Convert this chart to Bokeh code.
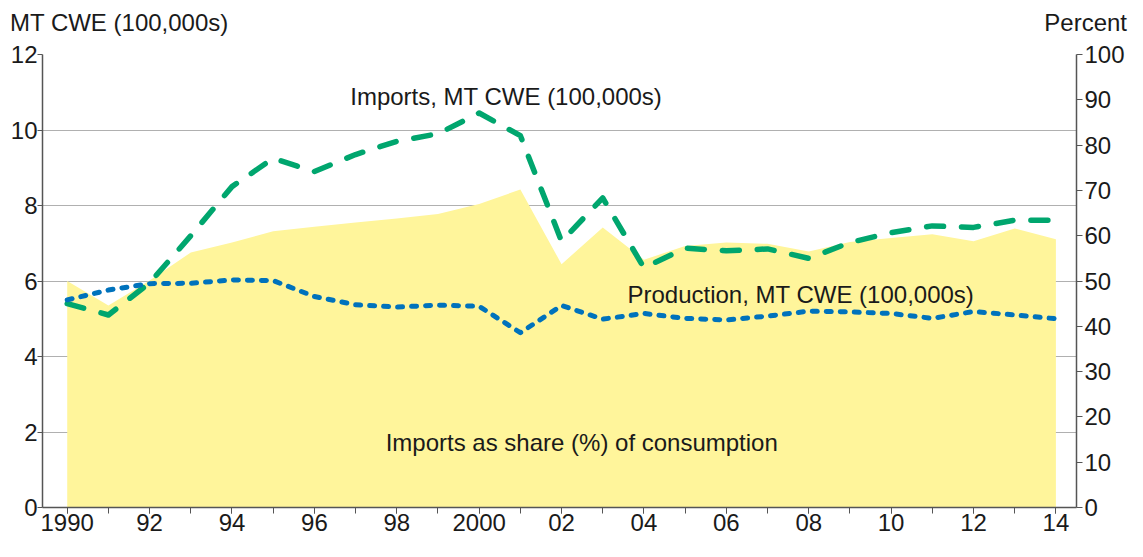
from bokeh.plotting import figure
from bokeh.models import Range1d, LinearAxis, FixedTicker, Label, Div
from bokeh.layouts import column
from bokeh.embed import file_html
from bokeh.resources import INLINE

years = list(range(1990, 2015))
share_pct = [50.0, 44.6, 50.1, 56.3, 58.5, 61.0, 62.0, 62.9, 63.8, 64.8, 67.0, 70.2, 53.7,
             61.8, 54.7, 57.7, 58.5, 58.2, 56.5, 58.6, 59.5, 60.3, 58.8, 61.6, 59.2]
imports_mt = [5.40, 5.10, 5.95, 7.20, 8.50, 9.25, 8.90, 9.35, 9.70, 9.90, 10.45, 9.85, 7.05,
              8.20, 6.35, 6.87, 6.80, 6.85, 6.60, 7.02, 7.28, 7.46, 7.42, 7.61, 7.61]
production_mt = [5.50, 5.76, 5.93, 5.94, 6.03, 6.01, 5.59, 5.37, 5.31, 5.36, 5.33, 4.63, 5.35,
                 4.99, 5.14, 5.01, 4.97, 5.07, 5.20, 5.18, 5.14, 5.01, 5.19, 5.10, 5.00]

x_ticks = list(range(1990, 2015, 2))
x_labels = {1990: "1990", 1992: "92", 1994: "94", 1996: "96", 1998: "98", 2000: "2000",
            2002: "02", 2004: "04", 2006: "06", 2008: "08", 2010: "10", 2012: "12", 2014: "14"}
left_ticks = list(range(0, 13, 2))
right_ticks = list(range(0, 101, 10))
left_title = "MT CWE (100,000s)"
right_title = "Percent"

FONT = "Liberation Sans"
TXT = "#1a1a1a"
AXC = "#555555"

header = Div(
    text=(f'<div style="display:flex;justify-content:space-between;width:1127px;'
          f'font-family:\'{FONT}\';font-size:24px;color:{TXT};line-height:34px;padding-top:6px;">'
          f'<span style="padding-left:10px">{left_title}</span>'
          f'<span style="padding-right:0px">{right_title}</span></div>'),
    width=1127, height=40, styles={"margin": "0", "padding": "0"})

p = figure(width=1127, height=501, output_backend="svg", toolbar_location=None,
           x_range=Range1d(1989.4, 2014.5), y_range=Range1d(0, 12),
           min_border_left=42, min_border_right=48, min_border_top=14, min_border_bottom=34)
p.extra_y_ranges = {"pct": Range1d(0, 100)}
p.outline_line_color = None
p.background_fill_color = "white"
p.border_fill_color = "white"

p.varea(x=years, y1=[0] * len(years), y2=share_pct, y_range_name="pct",
        fill_color="#FFF59B", fill_alpha=1.0)
p.line(years, imports_mt, line_color="#00A66E", line_width=5.5, line_dash="17 18",
       line_cap="round", line_join="round")
p.line(years, production_mt, line_color="#0072BC", line_width=5, line_dash="5 9",
       line_cap="round", line_join="round")

xa = p.xaxis[0]
xa.ticker = FixedTicker(ticks=x_ticks, minor_ticks=years)
xa.major_label_overrides = x_labels
ya = p.yaxis[0]
ya.ticker = FixedTicker(ticks=left_ticks)
ra = LinearAxis(y_range_name="pct", ticker=FixedTicker(ticks=right_ticks))
p.add_layout(ra, "right")

for ax in (xa, ya, ra):
    ax.axis_line_color = AXC
    ax.axis_line_width = 1.5
    ax.major_tick_line_color = AXC
    ax.minor_tick_line_color = AXC
    ax.major_tick_in = 0
    ax.major_tick_out = 6
    ax.minor_tick_in = 0
    ax.major_label_text_font = FONT
    ax.major_label_text_font_size = "24px"
    ax.major_label_text_color = TXT
xa.minor_tick_out = 6
xa.major_label_standoff = 0
ya.minor_tick_out = 0
ra.minor_tick_out = 0
ya.major_tick_out = 5
ya.major_label_standoff = 0
ra.major_label_standoff = 2

p.xgrid.grid_line_color = None
p.ygrid.ticker = FixedTicker(ticks=left_ticks)
p.ygrid.grid_line_color = "#b0b0b0"
p.ygrid.grid_line_width = 1

def lab(x, y, t):
    p.add_layout(Label(x=x, y=y, text=t, text_font=FONT, text_font_size="24px",
                       text_color=TXT, text_align="left", text_baseline="middle"))

lab(1996.87, 10.90, "Imports, MT CWE (100,000s)")
lab(2003.6, 5.65, "Production, MT CWE (100,000s)")
lab(1997.73, 1.71, "Imports as share (%) of consumption")

layout = column(header, p, spacing=0)
open("out.html", "w").write(file_html(layout, INLINE))
